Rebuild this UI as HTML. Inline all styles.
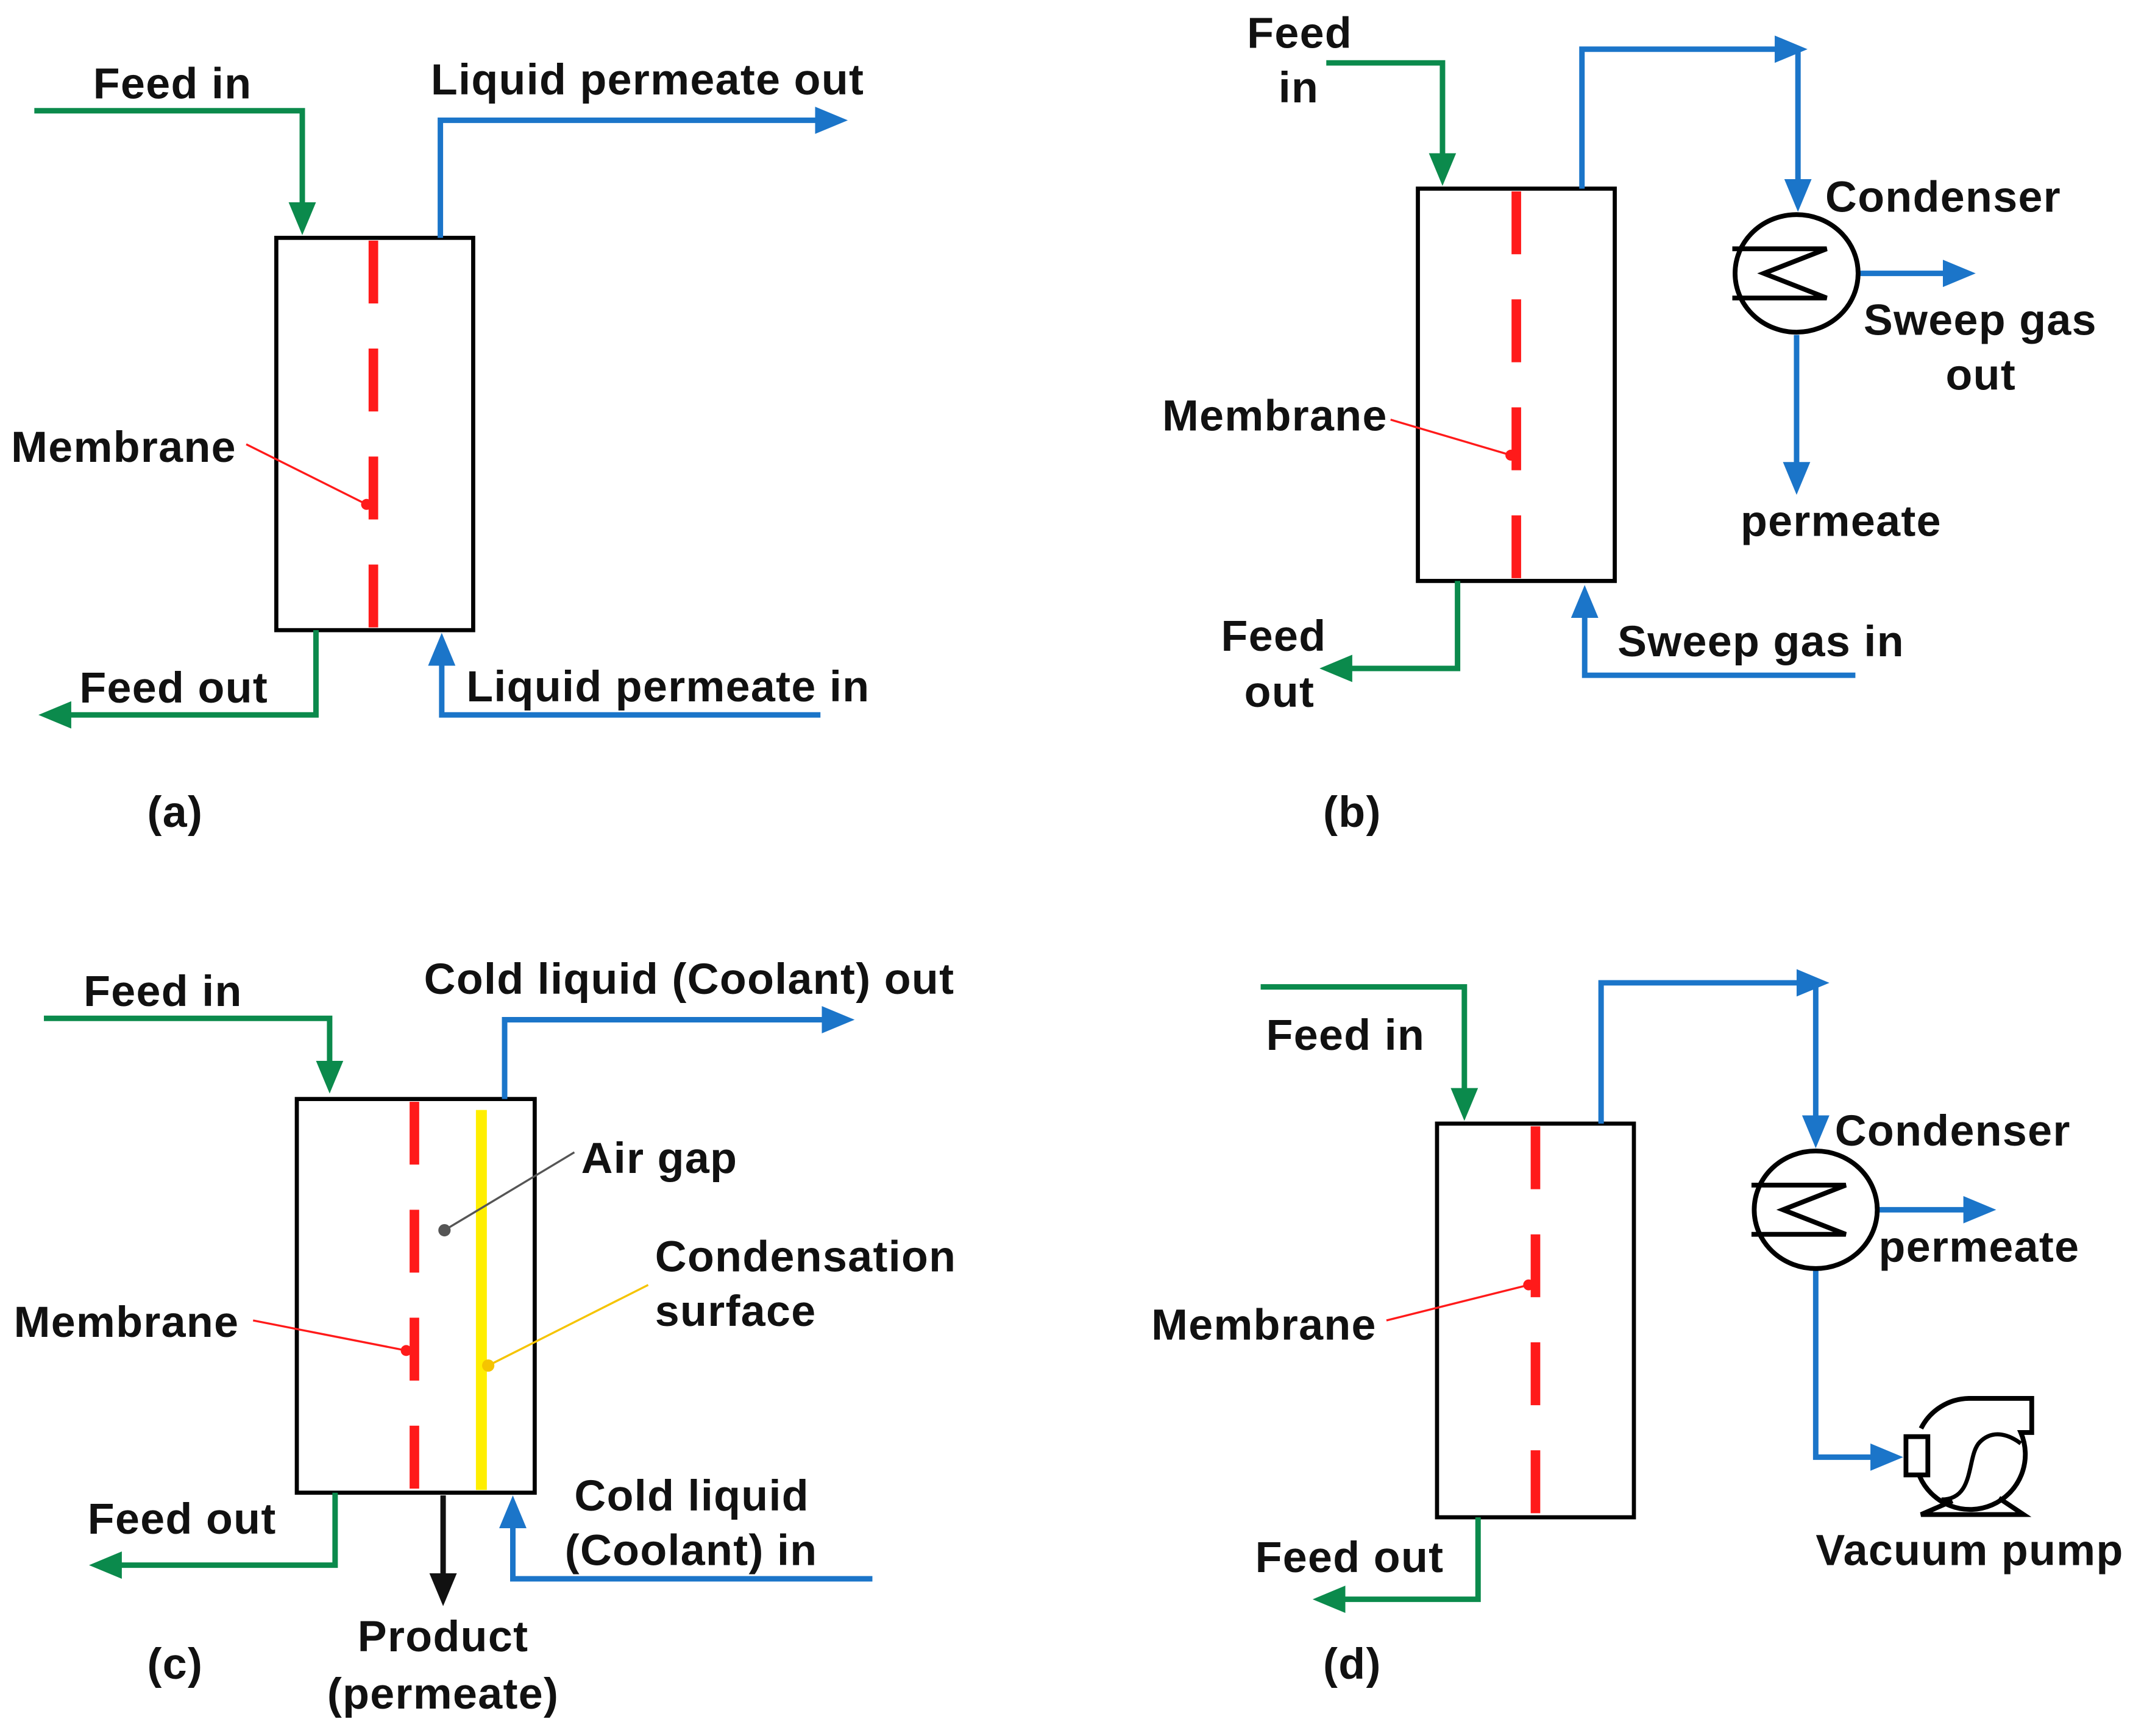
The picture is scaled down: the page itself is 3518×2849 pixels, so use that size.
<!DOCTYPE html>
<html><head><meta charset="utf-8"><style>
html,body{margin:0;padding:0;background:#fff;}
svg{display:block;}
text{font-family:"Liberation Sans",Arial,sans-serif;font-weight:bold;font-size:32px;letter-spacing:0.6px;fill:#111;}
</style></head><body>
<svg width="3518" height="2849" viewBox="0 0 1568 1270" xmlns="http://www.w3.org/2000/svg">
<defs>
<marker id="ag" markerUnits="userSpaceOnUse" markerWidth="24" markerHeight="20" refX="2" refY="10" orient="auto"><path d="M0,0 L24,10 L0,20 Z" fill="#0b8a4c"/></marker>
<marker id="ab" markerUnits="userSpaceOnUse" markerWidth="24" markerHeight="20" refX="2" refY="10" orient="auto"><path d="M0,0 L24,10 L0,20 Z" fill="#1b75c9"/></marker>
<marker id="ak" markerUnits="userSpaceOnUse" markerWidth="24" markerHeight="20" refX="2" refY="10" orient="auto"><path d="M0,0 L24,10 L0,20 Z" fill="#111"/></marker>
</defs>
<g fill="none" stroke-width="4">
<!-- (a) -->
<rect x="202" y="174" width="144" height="287" stroke="#000" stroke-width="3"/>
<line x1="273" y1="176" x2="273" y2="461" stroke="#ff1a1a" stroke-width="7" stroke-dasharray="46,33"/>
<polyline points="25,81 221,81 221,150" stroke="#0b8a4c" marker-end="url(#ag)"/>
<polyline points="322,174 322,88 598,88" stroke="#1b75c9" marker-end="url(#ab)"/>
<polyline points="231,461 231,523 50,523" stroke="#0b8a4c" marker-end="url(#ag)"/>
<polyline points="600,523 323,523 323,485" stroke="#1b75c9" marker-end="url(#ab)"/>
<line x1="180" y1="325" x2="268" y2="369" stroke="#ff1a1a" stroke-width="1.5"/>
<!-- (b) -->
<rect x="1037" y="138" width="144" height="287" stroke="#000" stroke-width="3"/>
<line x1="1109" y1="140" x2="1109" y2="425" stroke="#ff1a1a" stroke-width="7" stroke-dasharray="46,33"/>
<polyline points="970,46 1055,46 1055,114" stroke="#0b8a4c" marker-end="url(#ag)"/>
<polyline points="1157,138 1157,36 1300,36" stroke="#1b75c9" marker-end="url(#ab)"/>
<polyline points="1315,36 1315,133" stroke="#1b75c9" marker-end="url(#ab)"/>
<polyline points="1358,200 1423,200" stroke="#1b75c9" marker-end="url(#ab)"/>
<polyline points="1314,245 1314,340" stroke="#1b75c9" marker-end="url(#ab)"/>
<ellipse cx="1314" cy="200" rx="45" ry="43" stroke="#000" stroke-width="3.5"/>
<path d="M1267,182 H1336 L1290,200 L1336,218 H1267" stroke="#000" stroke-width="3.5"/>
<polyline points="1066,425 1066,489 987,489" stroke="#0b8a4c" marker-end="url(#ag)"/>
<polyline points="1357,494 1159,494 1159,450" stroke="#1b75c9" marker-end="url(#ab)"/>
<line x1="1017" y1="307" x2="1105" y2="333" stroke="#ff1a1a" stroke-width="1.5"/>
<!-- (c) -->
<rect x="217" y="804" width="174" height="288" stroke="#000" stroke-width="3"/>
<line x1="303" y1="806" x2="303" y2="1092" stroke="#ff1a1a" stroke-width="7" stroke-dasharray="46,33"/>
<line x1="352" y1="812" x2="352" y2="1090" stroke="#ffee00" stroke-width="8"/>
<polyline points="32,745 241,745 241,778" stroke="#0b8a4c" marker-end="url(#ag)"/>
<polyline points="369,804 369,746 603,746" stroke="#1b75c9" marker-end="url(#ab)"/>
<polyline points="245,1092 245,1145 87,1145" stroke="#0b8a4c" marker-end="url(#ag)"/>
<polyline points="324,1094 324,1153" stroke="#111" marker-end="url(#ak)"/>
<polyline points="638,1155 375,1155 375,1116" stroke="#1b75c9" marker-end="url(#ab)"/>
<line x1="420" y1="843" x2="325" y2="900" stroke="#555" stroke-width="1.5"/>
<line x1="474" y1="940" x2="357" y2="999" stroke="#f5c400" stroke-width="1.5"/>
<line x1="185" y1="966" x2="297" y2="988" stroke="#ff1a1a" stroke-width="1.5"/>
<!-- (d) -->
<rect x="1051" y="822" width="144" height="288" stroke="#000" stroke-width="3"/>
<line x1="1123" y1="824" x2="1123" y2="1110" stroke="#ff1a1a" stroke-width="7" stroke-dasharray="46,33"/>
<polyline points="922,722 1071,722 1071,798" stroke="#0b8a4c" marker-end="url(#ag)"/>
<polyline points="1171,822 1171,719 1316,719" stroke="#1b75c9" marker-end="url(#ab)"/>
<polyline points="1328,719 1328,818" stroke="#1b75c9" marker-end="url(#ab)"/>
<polyline points="1372,885 1438,885" stroke="#1b75c9" marker-end="url(#ab)"/>
<polyline points="1328,929 1328,1066 1370,1066" stroke="#1b75c9" marker-end="url(#ab)"/>
<ellipse cx="1328" cy="885" rx="45" ry="43" stroke="#000" stroke-width="3.5"/>
<path d="M1281,867 H1350 L1304,885 L1350,903 H1281" stroke="#000" stroke-width="3.5"/>
<!-- pump -->
<path d="M1405,1045 A40,40 0 0 1 1440,1023 H1486 V1048 H1478 A40,40 0 0 1 1404,1080" stroke="#000" stroke-width="3.5"/>
<rect x="1394" y="1051" width="16" height="28" stroke="#000" stroke-width="3.5" fill="#fff"/>
<path d="M1420,1097 C1445,1097 1438,1065 1448,1055 C1458,1045 1470,1050 1478,1056" stroke="#000" stroke-width="3"/>
<path d="M1428,1098 L1405,1108 H1480 L1462,1096" stroke="#000" stroke-width="3.5"/>
<polyline points="1081,1110 1081,1170 982,1170" stroke="#0b8a4c" marker-end="url(#ag)"/>
<line x1="1014" y1="966" x2="1118" y2="940" stroke="#ff1a1a" stroke-width="1.5"/>
</g>
<g>
<circle cx="268" cy="369" r="4" fill="#ff1a1a"/>
<circle cx="1105" cy="333" r="4" fill="#ff1a1a"/>
<circle cx="325" cy="900" r="4.5" fill="#555"/>
<circle cx="357" cy="999" r="4.5" fill="#f5c400"/>
<circle cx="297" cy="988" r="4" fill="#ff1a1a"/>
<circle cx="1118" cy="940" r="4" fill="#ff1a1a"/>
</g>
<!-- text (a) -->
<text x="68" y="72">Feed in</text>
<text x="315" y="69">Liquid permeate out</text>
<text x="8" y="338">Membrane</text>
<text x="58" y="514">Feed out</text>
<text x="341" y="513">Liquid permeate in</text>
<text x="128" y="605" text-anchor="middle">(a)</text>
<!-- (b) -->
<text x="912" y="35">Feed</text>
<text x="935" y="75">in</text>
<text x="1335" y="155">Condenser</text>
<text x="1363" y="245">Sweep gas</text>
<text x="1423" y="285">out</text>
<text x="1273" y="392">permeate</text>
<text x="850" y="315">Membrane</text>
<text x="893" y="476">Feed</text>
<text x="910" y="517">out</text>
<text x="1183" y="480">Sweep gas in</text>
<text x="989" y="605" text-anchor="middle">(b)</text>
<!-- (c) -->
<text x="61" y="736">Feed in</text>
<text x="310" y="727">Cold liquid (Coolant) out</text>
<text x="425" y="858">Air gap</text>
<text x="479" y="930">Condensation</text>
<text x="479" y="970">surface</text>
<text x="10" y="978">Membrane</text>
<text x="64" y="1122">Feed out</text>
<text x="420" y="1105">Cold liquid</text>
<text x="413" y="1145">(Coolant) in</text>
<text x="324" y="1208" text-anchor="middle">Product</text>
<text x="324" y="1250" text-anchor="middle">(permeate)</text>
<text x="128" y="1228" text-anchor="middle">(c)</text>
<!-- (d) -->
<text x="926" y="768">Feed in</text>
<text x="1342" y="838">Condenser</text>
<text x="1374" y="923">permeate</text>
<text x="842" y="980">Membrane</text>
<text x="918" y="1150">Feed out</text>
<text x="1328" y="1145">Vacuum pump</text>
<text x="989" y="1228" text-anchor="middle">(d)</text>
</svg>
</body></html>
